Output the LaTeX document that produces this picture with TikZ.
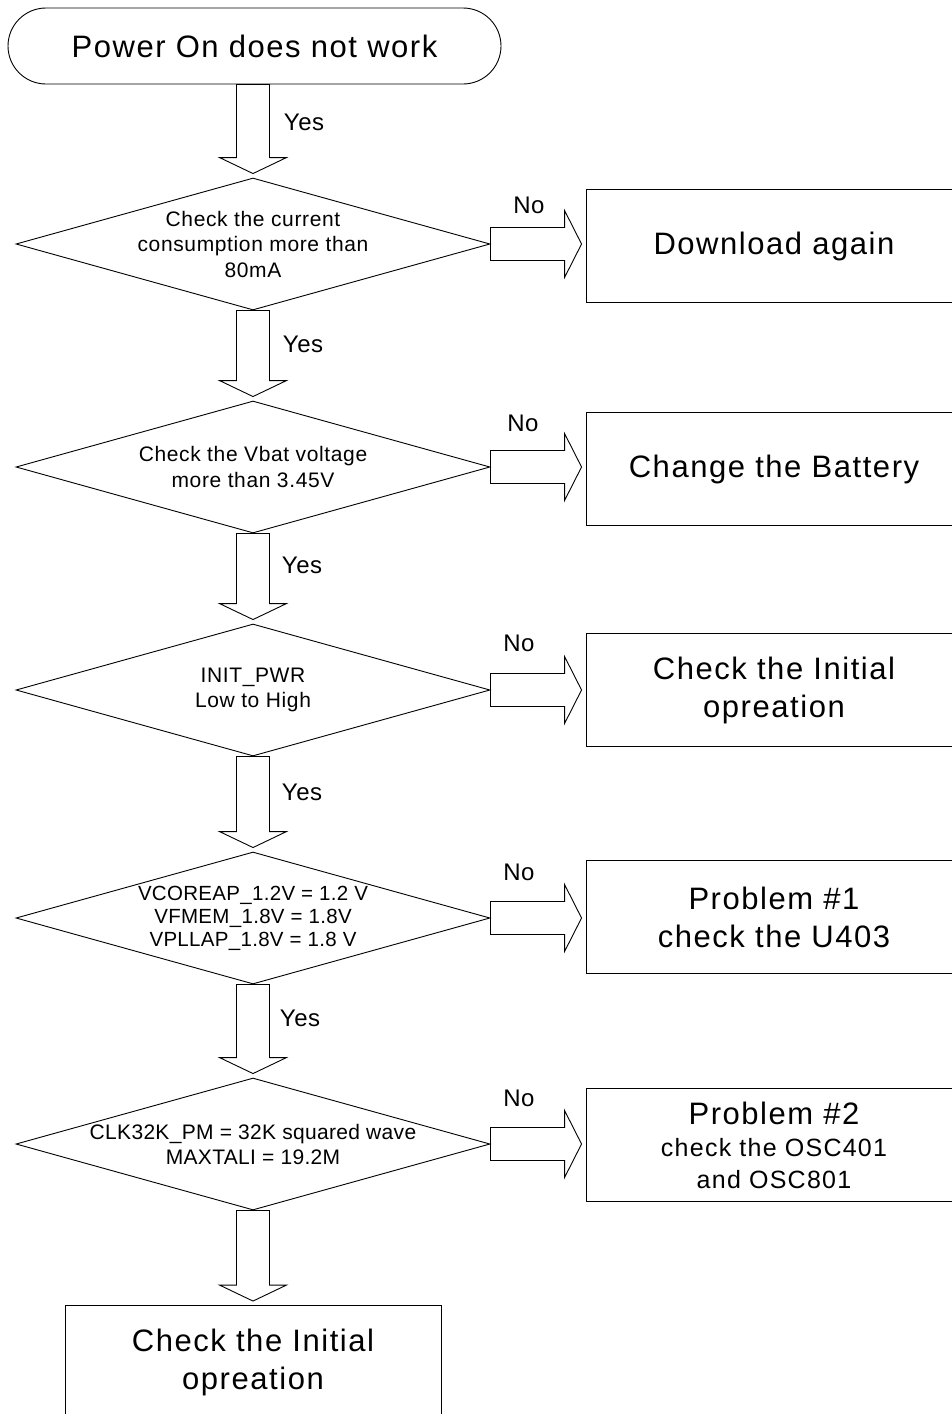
\documentclass[tikz,border=0pt]{standalone}
\usepackage{fontspec}
\setmainfont{Liberation Sans}
\usetikzlibrary{shapes.geometric,calc}
\newcommand{\bigtxt}{\fontsize{31}{38}\selectfont\addfontfeature{LetterSpace=5}}
\newcommand{\midtxt}{\fontsize{25}{32}\selectfont\addfontfeature{LetterSpace=5}}
\newcommand{\smalltxt}{\fontsize{21}{25.5}\selectfont\addfontfeature{LetterSpace=3}}
\newcommand{\tighttxt}{\fontsize{20.5}{23}\selectfont\addfontfeature{LetterSpace=1.5}}
\newcommand{\condtxt}{\fontsize{21}{25}\selectfont\addfontfeature{LetterSpace=1.5}}
\newcommand{\lbltxt}{\fontsize{24}{28}\selectfont\addfontfeature{LetterSpace=2}}
\tikzset{
  term/.style={draw, rectangle, rounded corners=38pt, minimum width=493pt, minimum height=76pt, font=\bigtxt},
  decision/.style={draw, diamond, inner sep=0pt, minimum width=474pt, minimum height=132pt},
  dtext/.style={align=center, font=\smalltxt, inner sep=0pt},
  result/.style={draw, rectangle, minimum width=376pt, minimum height=113pt, align=center, font=\bigtxt},
  lbl/.style={font=\lbltxt, inner sep=0pt},
  fatdown/.style={to path={
    ($(\tikztostart -| \tikztotarget)+(-16.5,0)$) -- ($(\tikztotarget)+(-16.5,-20)$)
    -- ($(\tikztotarget)+(-33.5,-20)$) -- ($(\tikztotarget)+(0,-4)$)
    -- ($(\tikztotarget)+(33.5,-20)$) -- ($(\tikztotarget)+(16.5,-20)$)
    -- ($(\tikztostart -| \tikztotarget)+(16.5,0)$) -- cycle}},
  fatright/.style={to path={
    ($(\tikztostart)+(0,-16.5)$) -- ($(\tikztotarget |- \tikztostart)+(-21,-16.5)$)
    -- ($(\tikztotarget |- \tikztostart)+(-21,-33.5)$) -- ($(\tikztotarget |- \tikztostart)+(-4,0)$)
    -- ($(\tikztotarget |- \tikztostart)+(-21,33.5)$) -- ($(\tikztotarget |- \tikztostart)+(-21,16.5)$)
    -- ($(\tikztostart)+(0,16.5)$) -- cycle}}
}
\begin{document}
\begin{tikzpicture}[x=1pt,y=-1pt,line width=0.9pt]
  \useasboundingbox (0,0) rectangle (952,1414);
  \clip (0,0) rectangle (952,1414);
  % start
  \node[term] at (254.5,46) (S) {Power On does not work};
  % checks
  \node[decision] at (253,244) (D1) {};
  \node[dtext] at (D1) (T1) {Check the current\\consumption more than\\80mA};
  \node[decision] at (253,467) (D2) {};
  \node[dtext] at (D2) (T2) {Check the Vbat voltage\\more than 3.45V};
  \node[decision] at (253,690) (D3) {};
  \node[dtext] at (D3) (T3) {INIT\_PWR\\Low to High};
  \node[decision] at (253,918) (D4) {};
  \node[dtext, font=\tighttxt] at (D4) (T4) {VCOREAP\_1.2V = 1.2 V\\VFMEM\_1.8V = 1.8V\\VPLLAP\_1.8V = 1.8 V};
  \node[decision] at (253,1144) (D5) {};
  \node[dtext, font=\condtxt] at (D5) (T5) {CLK32K\_PM = 32K squared wave\\MAXTALI = 19.2M};
  % results
  \node[result] at (774,246) (R1) {Download again};
  \node[result] at (774,469) (R2) {Change the Battery};
  \node[result] at (774,690) (R3) {Check the Initial\\opreation};
  \node[result] at (774,917) (R4) {Problem \#1\\check the U403};
  \node[result, font=\midtxt] at (774,1145) (R5) {{\bigtxt Problem \#2}\\check the OSC401\\and OSC801};
  \node[result] at (253,1362) (E) {Check the Initial\\opreation};
  % yes path
  \draw (S.south) to[fatdown] (D1.north);
  \draw (D1.south) to[fatdown] (D2.north);
  \draw (D2.south) to[fatdown] (D3.north);
  \draw (D3.south) to[fatdown] (D4.north);
  \draw (D4.south) to[fatdown] (D5.north);
  \draw (D5.south) to[fatdown] (E.north);
  \node[lbl] at (304,122) (Y1) {Yes};
  \node[lbl] at (303,344) (Y2) {Yes};
  \node[lbl] at (302,565) (Y3) {Yes};
  \node[lbl] at (302,792) (Y4) {Yes};
  \node[lbl] at (300,1018) (Y5) {Yes};
  % no path
  \draw (D1.east) to[fatright] (R1.west);
  \draw (D2.east) to[fatright] (R2.west);
  \draw (D3.east) to[fatright] (R3.west);
  \draw (D4.east) to[fatright] (R4.west);
  \draw (D5.east) to[fatright] (R5.west);
  \node[lbl] at (529,205) (N1) {No};
  \node[lbl] at (523,423) (N2) {No};
  \node[lbl] at (519,643) (N3) {No};
  \node[lbl] at (519,872) (N4) {No};
  \node[lbl] at (519,1098) (N5) {No};
\end{tikzpicture}
\end{document}
